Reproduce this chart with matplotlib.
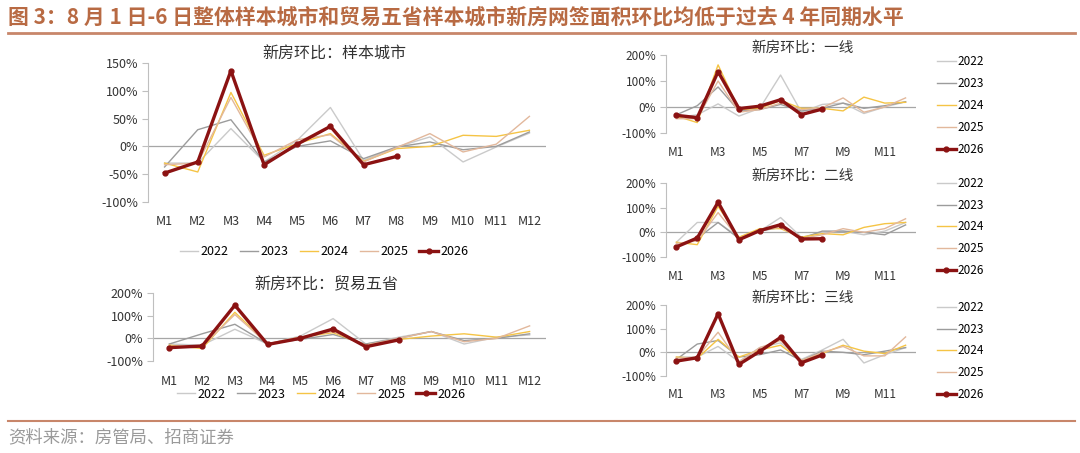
import matplotlib
matplotlib.use("Agg")
import matplotlib.pyplot as plt
from matplotlib.lines import Line2D

plt.rcParams['font.family'] = ['Noto Sans CJK SC', 'DejaVu Sans']

W, H = 1080, 453

months = ['M1', 'M2', 'M3', 'M4', 'M5', 'M6', 'M7', 'M8', 'M9', 'M10', 'M11', 'M12']
years = ['2022', '2023', '2024', '2025', '2026']
colors = ['#cacaca', '#9c9c9c', '#f5c445', '#e2b89c', '#8b1212']

# 样本城市
yb_2022 = [-30, -30, 32, -28, 11, 70, -25, -1, 17, -28, -1, 24]
yb_2023 = [-37, 30, 48, -28, 0, 10, -22, -1, 8, -6, 0, 26]
yb_2024 = [-30, -46, 97, -16, 5, 23, -27, -4, 0, 20, 18, 29]
yb_2025 = [-33, -30, 88, -19, 12, 21, -28, -2, 23, -10, 4, 54]
yb_2026 = [-48, -28, 136, -33, 4, 36, -33, -18]

# 贸易五省
my_2022 = [-25, -30, 40, -25, 10, 87, -25, 5, 30, -25, 5, 15]
my_2023 = [-25, 20, 62, -25, -5, 17, -25, 0, 30, -10, 0, 20]
my_2024 = [-30, -45, 115, -25, 5, 25, -30, -5, 10, 20, 5, 30]
my_2025 = [-35, -35, 105, -25, 5, 30, -30, 0, 30, -15, 0, 55]
my_2026 = [-41, -34, 146, -27, 0, 41, -37, -7]

# 一线
t1_2022 = [-40, -30, 12, -35, -5, 123, -20, 10, 15, -25, 0, 20]
t1_2023 = [-30, 5, 77, -15, -10, 10, -15, -5, 15, -5, 5, 20]
t1_2024 = [-35, -60, 162, -10, -5, 25, -5, -5, -15, 38, 15, 18]
t1_2025 = [-45, -45, 100, -20, -10, 15, -10, -3, 35, -20, 0, 35]
t1_2026 = [-32, -41, 136, -6, 3, 28, -29, -8]

# 二线
t2_2022 = [-40, 40, 40, -20, 5, 60, -20, 0, 5, -10, 5, 40]
t2_2023 = [-55, -25, 40, -25, 5, 20, -25, 5, 5, 0, -10, 30]
t2_2024 = [-40, -50, 105, -20, 15, 15, -20, -5, -10, 20, 35, 40]
t2_2025 = [-45, -35, 80, -25, 10, 20, -25, -10, 15, 0, 15, 55]
t2_2026 = [-59, -23, 122, -30, 7, 31, -27, -26]

# 三线
t3_2022 = [-20, -20, 25, -40, 20, 40, -30, 10, 55, -45, -10, 20]
t3_2023 = [-30, 35, 50, -20, -10, 10, -35, 5, 0, -10, 5, 20]
t3_2024 = [-20, -25, 55, -20, 10, 30, -35, -5, 30, 5, -5, 30]
t3_2025 = [-25, -20, 85, -40, 20, 50, -35, 0, 25, -15, -15, 65]
t3_2026 = [-37, -23, 163, -51, 4, 63, -44, -11]

fig = plt.figure(figsize=(W / 100, H / 100), dpi=100)


def px_axes(x0, x1, ytop, ybot):
    return fig.add_axes([x0 / W, 1 - ybot / H, (x1 - x0) / W, (ybot - ytop) / H])


def draw(ax, series, title, tx, yticks, every, fs, pad, tfs):
    handles = []
    for i, vals in enumerate(series):
        x = list(range(1, len(vals) + 1))
        if i == 4:
            h, = ax.plot(x, vals, color=colors[i], lw=2.4, marker='o', ms=3.5, zorder=5)
        else:
            h, = ax.plot(x, vals, color=colors[i], lw=1.0, zorder=3)
        handles.append(h)
    ax.axhline(0, color='#a6a6a6', lw=0.9, zorder=2)
    ax.set_xlim(0.5, 12.5)
    ax.set_ylim(yticks[0], yticks[-1])
    ax.set_yticks(yticks)
    ax.set_yticklabels(['%d%%' % v for v in yticks], fontsize=fs, color='#333333')
    ax.set_xticks(range(1, 13, every))
    ax.set_xticklabels(months[::every], fontsize=fs, color='#333333')
    ax.tick_params(axis='x', length=0, pad=pad)
    ax.tick_params(axis='y', length=4, color='#bfbfbf', width=0.8, pad=3)
    for s in ['top', 'right', 'bottom']:
        ax.spines[s].set_visible(False)
    ax.spines['left'].set_color('#bfbfbf')
    ax.spines['left'].set_linewidth(0.8)
    ax.set_title(title, fontsize=tfs, color='#333333', pad=2, x=tx)
    ax.patch.set_alpha(0)
    return handles


leg_kw = dict(frameon=False, handlelength=1.45, handletextpad=0.2)

# left top
ax1 = px_axes(148, 546, 63, 202)
h = draw(ax1, [yb_2022, yb_2023, yb_2024, yb_2025, yb_2026], '新房环比：样本城市', 0.467,
         [-100, -50, 0, 50, 100, 150], 1, 9, 9, 11.5)
fig.legend(h, years, loc='center', bbox_to_anchor=(324 / W, 1 - 252 / H), ncol=5,
           fontsize=9, columnspacing=0.9, **leg_kw)

# left bottom
ax2 = px_axes(153, 546, 293, 361)
h = draw(ax2, [my_2022, my_2023, my_2024, my_2025, my_2026], '新房环比：贸易五省', 0.44,
         [-100, 0, 100, 200], 1, 9, 10, 11.5)
fig.legend(h, years, loc='center', bbox_to_anchor=(321 / W, 1 - 394 / H), ncol=5,
           fontsize=9, columnspacing=0.9, **leg_kw)

# right side
right = [
    ([t1_2022, t1_2023, t1_2024, t1_2025, t1_2026], '新房环比：一线', 55, 133, 105.5),
    ([t2_2022, t2_2023, t2_2024, t2_2025, t2_2026], '新房环比：二线', 183, 257, 227),
    ([t3_2022, t3_2023, t3_2024, t3_2025, t3_2026], '新房环比：三线', 305, 376, 351),
]
for series, title, yt, yb, ly in right:
    ax = px_axes(666, 916, yt, yb)
    h = draw(ax, series, title, 0.545, [-100, 0, 100, 200], 2, 8.5, 9, 10.5)
    fig.legend(h, years, loc='center left', bbox_to_anchor=(926 / W, 1 - ly / H), ncol=1,
               fontsize=8.5, labelspacing=0.75, handlelength=1.6, handletextpad=0.2,
               frameon=False)

fig.text(8 / W, 1 - 17 / H, '图 3：8 月 1 日-6 日整体样本城市和贸易五省样本城市新房网签面积环比均低于过去 4 年同期水平',
         fontsize=15, fontweight='bold', color='#b86a43', va='center')
fig.add_artist(Line2D([8 / W, 1075 / W], [1 - 33 / H] * 2, color='#c8866a', lw=2))
fig.add_artist(Line2D([8 / W, 1075 / W], [1 - 421 / H] * 2, color='#c8866a', lw=1.5))
fig.text(8 / W, 1 - 437 / H, '资料来源：房管局、招商证券', fontsize=12.5, color='#9a9a9a', va='center')

fig.savefig('out.png', dpi=100)
